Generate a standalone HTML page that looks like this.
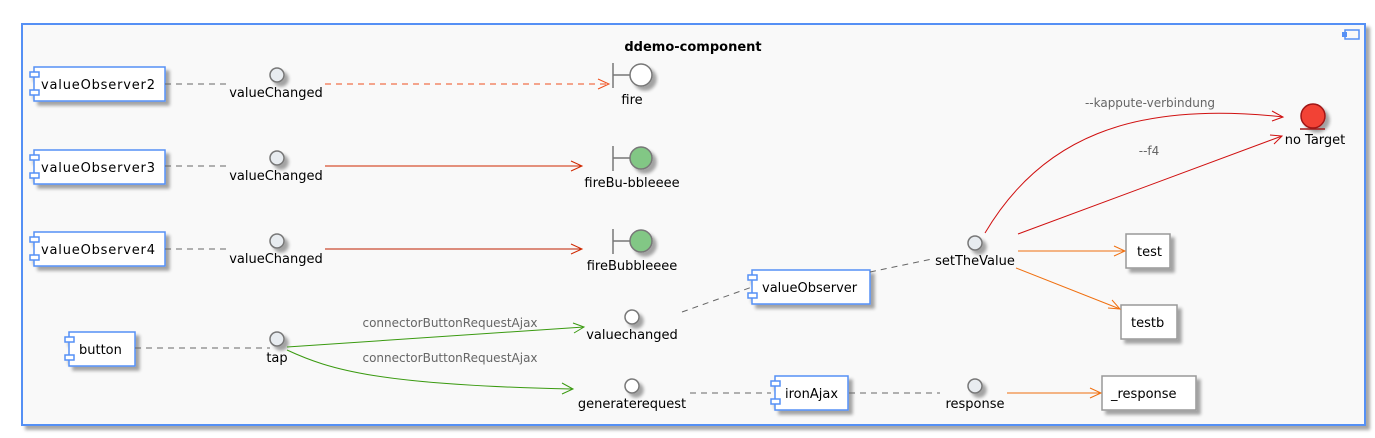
<!DOCTYPE html>
<html><head><meta charset="utf-8"><style>
html,body{margin:0;padding:0;background:#fff;}
svg{display:block;}
text{font-family:"DejaVu Sans","Liberation Sans",sans-serif;font-size:13px;fill:#000;}
.lbl{font-size:12px;fill:#666;}
</style></head><body>
<svg width="1375" height="438" viewBox="0 0 1375 438" xmlns="http://www.w3.org/2000/svg">
<defs>
<filter id="sh" x="-20%" y="-20%" width="150%" height="150%"><feGaussianBlur in="SourceAlpha" stdDeviation="1.5"/><feOffset dx="4" dy="4"/><feComponentTransfer><feFuncA type="linear" slope="0.35"/></feComponentTransfer><feMerge><feMergeNode/><feMergeNode in="SourceGraphic"/></feMerge></filter>
</defs>
<rect x="22" y="24" width="1343" height="401" fill="#f9f9f9" stroke="#5590f5" stroke-width="2" filter="url(#sh)"/>
<rect x="1345" y="30" width="14" height="9" fill="#f9f9f9" stroke="#5590f5" stroke-width="1.5"/>
<rect x="1342" y="32" width="5" height="5" fill="#5590f5"/>
<text x="693" y="51" text-anchor="middle" font-weight="bold">ddemo-component</text>

<g fill="#fff" stroke="#5590f5" stroke-width="1.5">
<g filter="url(#sh)"><rect x="34" y="67" width="131" height="34"/><rect x="30" y="72" width="9" height="5"/><rect x="30" y="90" width="9" height="5"/></g>
<g filter="url(#sh)"><rect x="34" y="150" width="131" height="34"/><rect x="30" y="155" width="9" height="5"/><rect x="30" y="173" width="9" height="5"/></g>
<g filter="url(#sh)"><rect x="34" y="232" width="131" height="34"/><rect x="30" y="237" width="9" height="5"/><rect x="30" y="255" width="9" height="5"/></g>
<g filter="url(#sh)"><rect x="69" y="332" width="66" height="34"/><rect x="65" y="337" width="9" height="5"/><rect x="65" y="355" width="9" height="5"/></g>
<g filter="url(#sh)"><rect x="752" y="270" width="118" height="34"/><rect x="748" y="275" width="9" height="5"/><rect x="748" y="293" width="9" height="5"/></g>
<g filter="url(#sh)"><rect x="775" y="376" width="73" height="34"/><rect x="771" y="381" width="9" height="5"/><rect x="771" y="399" width="9" height="5"/></g>
</g>
<text x="41" y="89" textLength="114">valueObserver2</text>
<text x="41" y="172" textLength="114">valueObserver3</text>
<text x="41" y="254" textLength="114">valueObserver4</text>
<text x="79" y="354">button</text>
<text x="762" y="292">valueObserver</text>
<text x="785" y="398">ironAjax</text>

<g fill="#fff" stroke="#999" stroke-width="1.5">
<rect x="1126" y="234" width="44" height="34" filter="url(#sh)"/>
<rect x="1121" y="305" width="56" height="34" filter="url(#sh)"/>
<rect x="1102" y="376" width="94" height="34" filter="url(#sh)"/>
</g>
<text x="1137" y="256">test</text>
<text x="1131" y="327">testb</text>
<text x="1111" y="398">_response</text>

<g stroke="#777" stroke-width="1.5" filter="url(#sh)">
<circle cx="277" cy="75" r="7" fill="#e8ecf0"/>
<circle cx="277" cy="158" r="7" fill="#e8ecf0"/>
<circle cx="277" cy="241" r="7" fill="#e8ecf0"/>
<circle cx="277" cy="339" r="7" fill="#e8ecf0"/>
<circle cx="632" cy="317" r="7" fill="#fff"/>
<circle cx="632" cy="386" r="7" fill="#fff"/>
<circle cx="975" cy="243" r="7" fill="#e8ecf0"/>
<circle cx="975" cy="386" r="7" fill="#e8ecf0"/>
</g>
<text x="276" y="97" text-anchor="middle">valueChanged</text>
<text x="276" y="180" text-anchor="middle">valueChanged</text>
<text x="276" y="263" text-anchor="middle">valueChanged</text>
<text x="277" y="362" text-anchor="middle">tap</text>
<text x="632" y="339" text-anchor="middle">valuechanged</text>
<text x="632" y="408" text-anchor="middle">generaterequest</text>
<text x="975" y="265" text-anchor="middle">setTheValue</text>
<text x="975" y="408" text-anchor="middle">response</text>

<g stroke="#777" stroke-width="1.5">
<line x1="613" y1="63" x2="613" y2="88"/><line x1="613" y1="75" x2="630" y2="75"/>
<circle cx="641" cy="75" r="11" fill="#fff" filter="url(#sh)"/>
<line x1="613" y1="146" x2="613" y2="171"/><line x1="613" y1="158" x2="630" y2="158"/>
<circle cx="641" cy="158" r="11" fill="#82c785" filter="url(#sh)"/>
<line x1="613" y1="229" x2="613" y2="254"/><line x1="613" y1="241" x2="630" y2="241"/>
<circle cx="641" cy="241" r="11" fill="#82c785" filter="url(#sh)"/>
</g>
<text x="632" y="104" text-anchor="middle">fire</text>
<text x="632" y="187" text-anchor="middle">fireBu-bbleeee</text>
<text x="632" y="270" text-anchor="middle">fireBubbleeee</text>

<g stroke="#a01818" stroke-width="1.5">
<circle cx="1313" cy="116" r="12" fill="#f24236" filter="url(#sh)"/>
<line x1="1300" y1="129" x2="1325" y2="129"/>
</g>
<text x="1315" y="144" text-anchor="middle">no Target</text>

<g stroke="#666" stroke-width="1" stroke-dasharray="6,5" fill="none">
<line x1="165" y1="84" x2="226" y2="84"/>
<line x1="165" y1="166" x2="226" y2="166"/>
<line x1="165" y1="249" x2="226" y2="249"/>
<line x1="135" y1="348" x2="270" y2="348"/>
<line x1="682" y1="312" x2="752" y2="287"/>
<line x1="870" y1="272" x2="932" y2="259"/>
<line x1="690" y1="393" x2="771" y2="393"/>
<line x1="849" y1="393" x2="940" y2="393"/>
</g>

<g fill="none" stroke-width="1">
<line x1="325" y1="84" x2="608" y2="84" stroke="#f0501e" stroke-dasharray="6,5"/>
<path d="M598,79 L609,84 L598,89" stroke="#f0501e"/>
<line x1="325" y1="166" x2="581" y2="166" stroke="#d02800"/>
<path d="M571,161 L582,166 L571,171" stroke="#d02800"/>
<line x1="325" y1="249" x2="581" y2="249" stroke="#c02000"/>
<path d="M571,244 L582,249 L571,254" stroke="#d02800"/>

<path d="M287,347 L584,327" stroke="#3a9a10"/>
<path d="M573,323 L584,327 L574,333" stroke="#3a9a10"/>
<path d="M287,350 C330,370 380,385 572,389" stroke="#3a9a10"/>
<path d="M562,383 L573,389 L562,394" stroke="#3a9a10"/>

<path d="M985,233 C1040,140 1130,100 1283,117" stroke="#d01010"/>
<path d="M1272,111 L1283,117 L1272,121" stroke="#d01010"/>
<line x1="1018" y1="234" x2="1282" y2="136" stroke="#d01010"/>
<path d="M1270,135 L1282,136 L1274,144" stroke="#d01010"/>

<line x1="1018" y1="251" x2="1125" y2="251" stroke="#f07010"/>
<path d="M1114,246 L1125,251 L1114,256" stroke="#f07010"/>
<line x1="1016" y1="268" x2="1120" y2="309" stroke="#f07010"/>
<path d="M1108,308 L1120,309 L1112,300" stroke="#f07010"/>
<line x1="1007" y1="393" x2="1101" y2="393" stroke="#f07010"/>
<path d="M1090,388 L1101,393 L1090,398" stroke="#f07010"/>
</g>
<text class="lbl" x="450" y="327" text-anchor="middle">connectorButtonRequestAjax</text>
<text class="lbl" x="450" y="362" text-anchor="middle">connectorButtonRequestAjax</text>
<text class="lbl" x="1150" y="107" text-anchor="middle">--kappute-verbindung</text>
<text class="lbl" x="1149" y="155" text-anchor="middle">--f4</text>
</svg>
</body></html>
